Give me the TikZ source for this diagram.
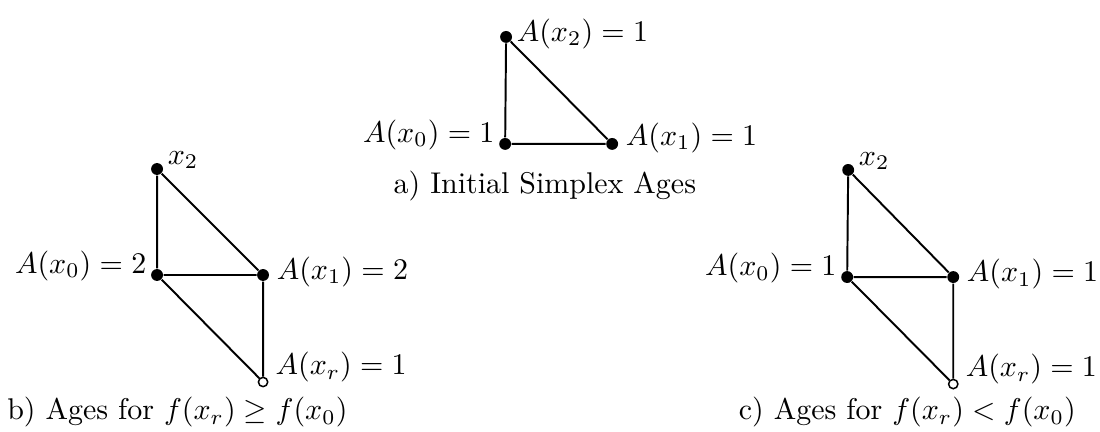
\documentclass[tikz,border=0pt]{standalone}
\usetikzlibrary{positioning}
\tikzset{
  vtx/.style={circle, fill, inner sep=1.4pt},
  newvtx/.style={circle, draw, fill=white, inner sep=1.1pt, line width=0.5pt},
  edge/.style={line width=0.65pt},
  lbl/.style={inner sep=1.2pt}
}
\begin{document}
\begin{tikzpicture}[x=1cm, y=1cm]
		\useasboundingbox (0,0) rectangle (12.9,5.055);
		% a) initial simplex
		\node[vtx] (a2) at (5.935,4.622) {};
		\node[vtx] (a0) at (5.924,3.367) {};
		\node[vtx] (a1) at (7.179,3.367) {};
		\draw[edge] (a0) -- (a1) -- (a2) -- (a0);
		\node[lbl, right=0pt of a2, yshift=1pt] {$A(x_2)=1$};
		\node[lbl, left=0pt of a0, yshift=3pt] {$A(x_0)=1$};
		\node[lbl, right=1pt of a1, yshift=2pt] {$A(x_1)=1$};
		\node (capa) at (6.39,2.874) {a) Initial Simplex Ages};
		% b) f(x_r) >= f(x_0)
		\node[vtx] (b2) at (1.842,3.073) {};
		\node[vtx] (b0) at (1.842,1.830) {};
		\node[vtx] (b1) at (3.085,1.830) {};
		\node[newvtx] (br) at (3.085,0.575) {};
		\draw[edge] (b0) -- (b1) -- (b2) -- (b0);
		\draw[edge] (b0) -- (br) -- (b1);
		\node[lbl, right=0pt of b2, yshift=3pt] {$x_2$};
		\node[lbl, left=0pt of b0, yshift=3pt] {$A(x_0)=2$};
		\node[lbl, right=1pt of b1, yshift=1pt] {$A(x_1)=2$};
		\node[lbl, right=1pt of br, yshift=5pt] {$A(x_r)=1$};
		\node (capb) at (2.08,0.223) {b) Ages for $f(x_r)\geq f(x_0)$};
		% c) f(x_r) < f(x_0)
		\node[vtx] (c2) at (9.947,3.062) {};
		\node[vtx] (c0) at (9.935,1.806) {};
		\node[vtx] (c1) at (11.179,1.806) {};
		\node[newvtx] (cr) at (11.179,0.551) {};
		\draw[edge] (c0) -- (c1) -- (c2) -- (c0);
		\draw[edge] (c0) -- (cr) -- (c1);
		\node[lbl, right=0pt of c2, yshift=3pt] {$x_2$};
		\node[lbl, left=0pt of c0, yshift=3pt] {$A(x_0)=1$};
		\node[lbl, right=1pt of c1, yshift=1pt] {$A(x_1)=1$};
		\node[lbl, right=1pt of cr, yshift=5pt] {$A(x_r)=1$};
		\node (capc) at (10.64,0.223) {c) Ages for $f(x_r)<f(x_0)$};
	\end{tikzpicture}
\end{document}
